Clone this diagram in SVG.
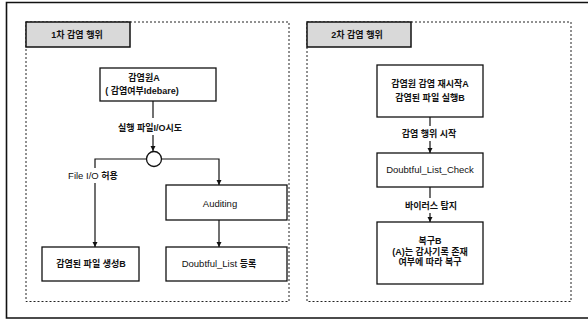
<svg xmlns="http://www.w3.org/2000/svg" width="588" height="320" viewBox="0 0 588 320">
<style>
text{font-family:"Liberation Sans","Noto Sans CJK KR",sans-serif;font-size:9.5px;fill:#111;text-anchor:middle}
.k{font-weight:bold;font-size:9px}
.t{font-weight:bold;font-size:9px}
.box{fill:#fff;stroke:#111;stroke-width:1.3}
.panel{fill:none;stroke:#222;stroke-width:1;stroke-dasharray:2 2}
.title{fill:#d9d9d9;stroke:#111;stroke-width:1.5}
.ln{fill:none;stroke:#111;stroke-width:1.2}
.frame{fill:none;stroke:#111;stroke-width:1.6}
</style>
<defs>
<marker id="ah" markerWidth="6" markerHeight="6" refX="5" refY="3" orient="auto" markerUnits="userSpaceOnUse">
<path d="M0,0.5 L5,3 L0,5.5 Z" fill="#111"/>
</marker>
</defs>
<rect x="0" y="0" width="588" height="320" fill="#fff"/>
<path class="frame" d="M588,2.5 H6.5 V318 H588"/>
<g id="panel1">
<rect class="panel" x="26" y="22" width="263" height="279.5"/>
<rect class="title" x="26" y="22" width="104" height="25"/>
<text class="t" x="77" y="38">1차 감염 행위</text>
</g>
<g id="panel2">
<rect class="panel" x="307" y="22" width="264" height="279.5"/>
<rect class="title" x="307" y="22" width="104" height="25"/>
<text class="t" x="357" y="38">2차 감염 행위</text>
</g>
<g id="connectors">
<path class="ln" d="M153,101 V118"/>
<path class="ln" d="M153,135 V151" marker-end="url(#ah)"/>
<path class="ln" d="M146.5,159 H95 V168"/>
<path class="ln" d="M95,183 V247" marker-end="url(#ah)"/>
<path class="ln" d="M161.5,159 H219 V185" marker-end="url(#ah)"/>
<path class="ln" d="M219,220 V247" marker-end="url(#ah)"/>
<path class="ln" d="M430,117 V126"/>
<path class="ln" d="M430,141 V153" marker-end="url(#ah)"/>
<path class="ln" d="M430,187 V198"/>
<path class="ln" d="M430,213 V222" marker-end="url(#ah)"/>
<text class="k" x="150" y="130.5">실행 파일I/O시도</text>
<text x="93" y="178.5">File I/O <tspan class="k">허용</tspan></text>
<text class="k" x="429" y="137">감염 행위 시작</text>
<text class="k" x="431" y="209">바이러스 탐지</text>
</g>
<g id="source">
<rect class="box" x="100" y="68" width="116" height="33"/>
<text class="k" x="144" y="81">감염원A</text>
<text class="k" x="142" y="94">( 감염여부Idebare)</text>
</g>
<g id="junction">
<circle cx="154" cy="159" r="7.5" fill="#fff" stroke="#111" stroke-width="1.3"/>
</g>
<g id="created">
<rect class="box" x="42" y="247" width="97" height="34"/>
<text class="k" x="91" y="267">감염된 파일 생성B</text>
</g>
<g id="auditing">
<rect class="box" x="166" y="185" width="121" height="35"/>
<text x="220" y="206.5">Auditing</text>
</g>
<g id="register">
<rect class="box" x="166" y="247" width="121" height="34"/>
<text x="219" y="267">Doubtful_List <tspan class="k">등록</tspan></text>
</g>
<g id="restart">
<rect class="box" x="377" y="65" width="106" height="52"/>
<text class="k" x="430" y="86.5">감염원 감염 재시작A</text>
<text class="k" x="430" y="100.5">감염된 파일 실행B</text>
</g>
<g id="check">
<rect class="box" x="377" y="153" width="106" height="34"/>
<text x="430" y="172.5">Doubtful_List_Check</text>
</g>
<g id="recover">
<rect class="box" x="377" y="222" width="106" height="62"/>
<text class="k" x="430" y="243.5">복구B</text>
<text class="k" x="430" y="254.5">(A)는 감사기록 존재</text>
<text class="k" x="430" y="265">여부에 따라 복구</text>
</g>
</svg>
